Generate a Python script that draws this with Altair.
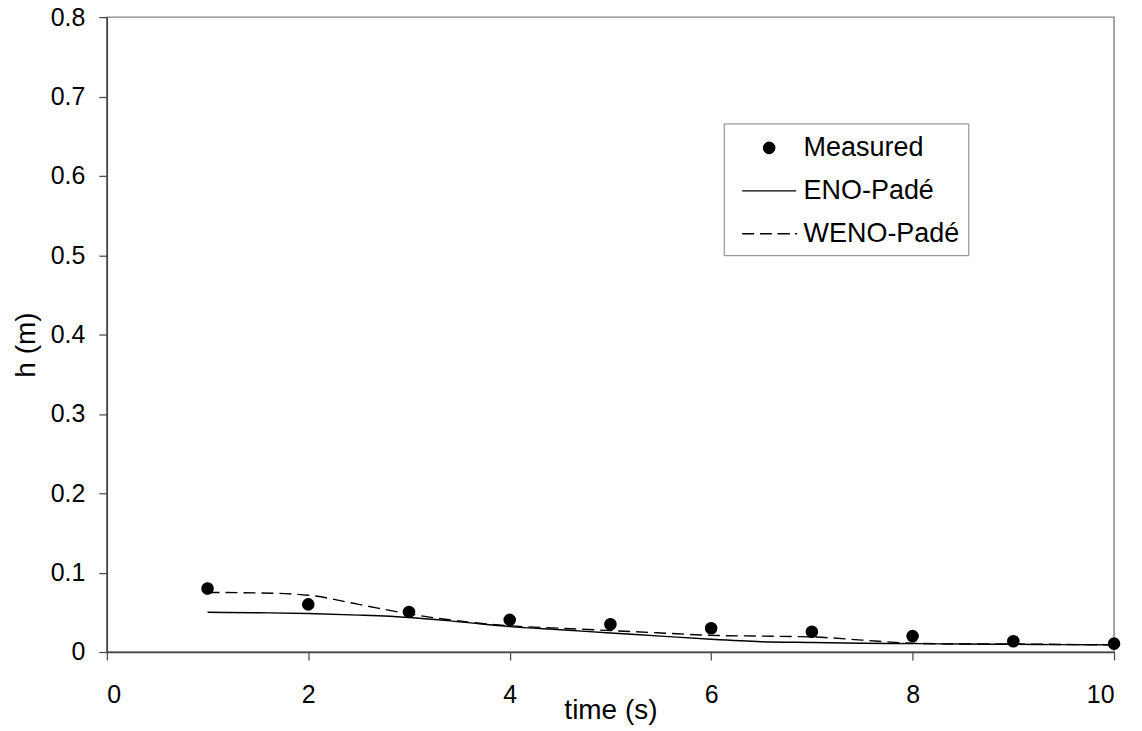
import altair as alt
import pandas as pd

# ---- data ----
time_measured = [1, 2, 3, 4, 5, 6, 7, 8, 9, 10]
h_measured = [0.080, 0.060, 0.0505, 0.0405, 0.035, 0.030, 0.0255, 0.020, 0.0135, 0.0105]

time_model = [1, 1.5, 2, 2.5, 3, 3.5, 4, 4.5, 5, 5.5, 6, 6.5, 7, 7.5, 8, 8.5, 9, 9.5, 10]
h_eno = [0.050, 0.0495, 0.0485, 0.0465, 0.0435, 0.038, 0.032, 0.028, 0.024, 0.020,
         0.016, 0.013, 0.012, 0.011, 0.0105, 0.010, 0.0097, 0.0093, 0.009]
h_weno = [0.075, 0.0745, 0.0715, 0.060, 0.048, 0.039, 0.033, 0.030, 0.027, 0.024,
          0.021, 0.020, 0.019, 0.015, 0.011, 0.010, 0.010, 0.0095, 0.009]

series_names = ["Measured", "ENO-Padé", "WENO-Padé"]
series_colors = ["black", "black", "black"]
x_ticks = [0, 2, 4, 6, 8, 10]
y_ticks = [0, 0.1, 0.2, 0.3, 0.4, 0.5, 0.6, 0.7, 0.8]

FONT = "Liberation Sans"

measured_df = pd.DataFrame({"time": time_measured, "h": h_measured, "series": "Measured"})
model_df = pd.DataFrame({"time": time_model, "eno": h_eno, "weno": h_weno})

# symbol size 986 -> unit radius ~15.7 px
SYM = 986
circle_path = "M0.36,0A0.36,0.36,0,1,1,-0.36,0A0.36,0.36,0,1,1,0.36,0Z"
solid_path = "M-1.72,0H1.72"
dashed_path = "M-1.72,0H-0.96M-0.58,0H0.17M0.53,0H1.32M1.65,0H1.79"

x_enc = alt.X(
    "time:Q",
    scale=alt.Scale(domain=[0, 10], nice=False),
    axis=alt.Axis(
        title="time (s)", values=x_ticks, grid=False, tickSize=8,
        labelPadding=23, titleY=67, titleBaseline="alphabetic",
    ),
)
y_axis = alt.Axis(
    title="h (m)", values=y_ticks, grid=False, tickSize=8, labelPadding=14,
    labelExpr="datum.value == 0 ? '0' : format(datum.value, '.1f')",
    titleX=-80, titleY=328, titleAngle=-90, titleBaseline="middle", titleAlign="center",
)
y_scale = alt.Scale(domain=[0, 0.8], nice=False)

legend = alt.Legend(
    title=None, orient="none", legendX=618, legendY=106.5,
    strokeColor="#808080", fillColor="white", padding=8,
    labelFont=FONT, labelFontSize=27, labelColor="black",
    symbolOffset=21, labelOffset=18,
    symbolSize=SYM, rowPadding=13, labelLimit=400,
    symbolFillColor="black", symbolStrokeColor="black", symbolStrokeWidth=1.3,
    symbolOpacity=1,
)

points = alt.Chart(measured_df).mark_point(
    filled=False, fill="black", fillOpacity=1, strokeWidth=1.3,
    size=SYM, opacity=1
).encode(
    x=x_enc,
    y=alt.Y("h:Q", scale=y_scale, axis=y_axis),
    shape=alt.Shape(
        "series:N",
        scale=alt.Scale(domain=series_names, range=[circle_path, solid_path, dashed_path]),
        legend=legend,
    ),
    color=alt.Color(
        "series:N",
        scale=alt.Scale(domain=series_names, range=series_colors),
        legend=legend,
    ),
)

eno = alt.Chart(model_df).mark_line(
    color="black", strokeWidth=1.4, interpolate="monotone"
).encode(x=x_enc, y=alt.Y("eno:Q", scale=y_scale, axis=y_axis))

weno = alt.Chart(model_df).mark_line(
    color="black", strokeWidth=1.4, strokeDash=[12, 6], interpolate="monotone"
).encode(x=x_enc, y=alt.Y("weno:Q", scale=y_scale, axis=y_axis))

chart = alt.layer(eno, weno, points).properties(
    width=1009, height=636,
    autosize=alt.AutoSizeParams(type="none"),
    padding={"left": 99, "top": 8.5, "right": 20, "bottom": 76},
).configure_view(
    stroke="#888888", strokeWidth=1.5
).configure_axis(
    labelFont=FONT, titleFont=FONT, labelFontSize=25, titleFontSize=28,
    labelColor="black", titleColor="black", titleFontWeight="normal",
    domainColor="#444444", domainWidth=1.5, tickColor="#444444", tickWidth=1.2,
)

chart.save("out.html", embed_options={"renderer": "svg", "actions": False})
